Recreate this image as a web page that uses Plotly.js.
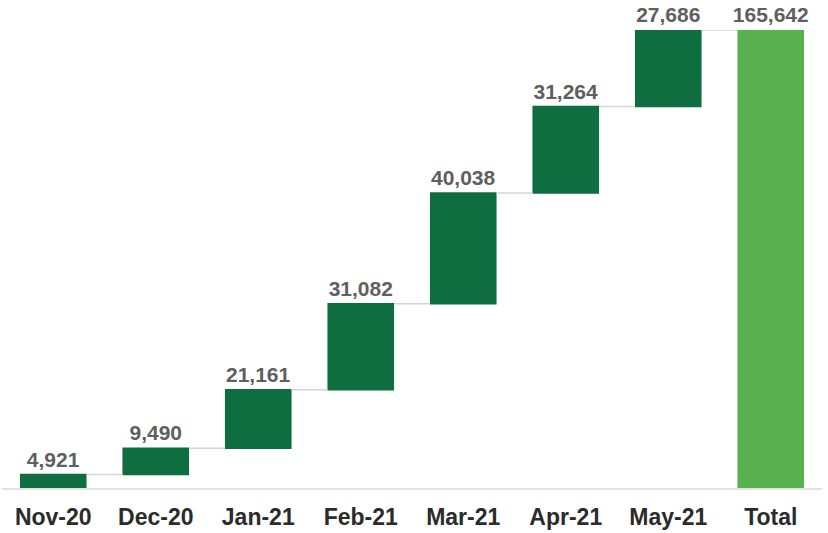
<!DOCTYPE html>
<html>
<head>
<meta charset="utf-8">
<script src="https://cdn.plot.ly/plotly-3.0.1.min.js"></script>
<style>html,body{margin:0;padding:0;background:#fff;}#chart{width:828px;height:533px;}</style>
</head>
<body>
<div id="chart"></div>
<script>
const categories = ["Nov-20","Dec-20","Jan-21","Feb-21","Mar-21","Apr-21","May-21","Total"];
const increments = [4921, 9490, 21161, 31082, 40038, 31264, 27686];
const totalValue = 165642;
const measures = ["relative","relative","relative","relative","relative","relative","relative","total"];

const yValues = increments.concat([0]);
const labels = increments.concat([totalValue]).map(v => v.toLocaleString('en-US'));

const trace = {
  type: 'waterfall',
  x: categories,
  y: yValues,
  measure: measures,
  text: labels,
  textposition: 'outside',
  constraintext: 'none',
  textfont: {family: 'Liberation Sans, Arial, sans-serif', size: 21, color: '#5f5f5f', weight: 'bold'},
  cliponaxis: false,
  increasing: {marker: {color: '#0f6e3f'}},
  decreasing: {marker: {color: '#0f6e3f'}},
  totals: {marker: {color: '#58b04f'}},
  connector: {mode: 'between', line: {color: '#d4d4d4', width: 1.5}},
  hoverinfo: 'x+y'
};

const layout = {
  width: 828, height: 533,
  margin: {l: 2, r: 6, t: 30, b: 45},
  paper_bgcolor: '#ffffff', plot_bgcolor: '#ffffff',
  showlegend: false,
  waterfallgap: 0.35,
  xaxis: {
    type: 'category',
    showline: true, linecolor: '#e3e3e3', linewidth: 1.5,
    ticks: '', showgrid: false,
    ticklabelstandoff: 8,
    tickfont: {family: 'Liberation Sans, Arial, sans-serif', size: 23, color: '#2b2b2b', weight: 'bold'}
  },
  yaxis: {
    range: [0, totalValue],
    showgrid: false, zeroline: false, showticklabels: false, showline: false
  }
};

Plotly.newPlot('chart', [trace], layout, {displayModeBar: false, staticPlot: true});
</script>
</body>
</html>
